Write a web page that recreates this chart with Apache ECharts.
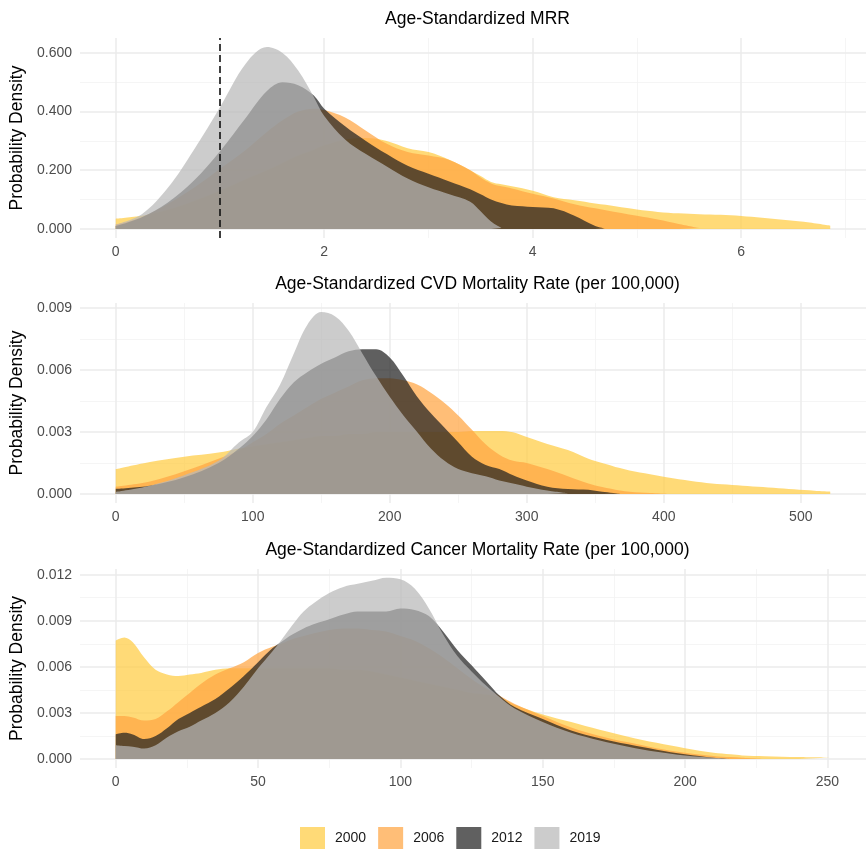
<!DOCTYPE html>
<html><head><meta charset="utf-8">
<script src="https://cdn.jsdelivr.net/npm/echarts@6/dist/echarts.min.js"></script>
<style>html,body{margin:0;padding:0;background:#fff}#c{width:866px;height:850px}</style>
</head><body><div id="c"></div><script>
// ---------- DATA ----------
const years = ['2000', '2006', '2012', '2019'];

// Panel 1: Age-Standardized MRR
const mrrX = [0, 0.25, 0.5, 0.75, 1.0, 1.25, 1.45, 1.6, 1.75, 1.9, 2.0, 2.2, 2.4, 2.6, 2.8, 3.0, 3.2, 3.4, 3.5, 3.6, 3.7, 3.8, 4.0, 4.2, 4.4, 4.6, 4.7, 5.0, 5.2, 5.4, 5.6, 5.8, 6.0, 6.2, 6.4, 6.6, 6.854];
const mrr2000 = [0.035, 0.045, 0.065, 0.095, 0.13, 0.17, 0.2, 0.225, 0.25, 0.27, 0.285, 0.305, 0.31, 0.3, 0.275, 0.262, 0.236, 0.2, 0.18, 0.16, 0.152, 0.145, 0.13, 0.108, 0.098, 0.087, 0.082, 0.066, 0.058, 0.053, 0.05, 0.048, 0.044, 0.038, 0.031, 0.024, 0.011];
const mrr2006 = [0.015, 0.04, 0.085, 0.14, 0.205, 0.27, 0.33, 0.37, 0.4, 0.41, 0.405, 0.38, 0.335, 0.29, 0.262, 0.25, 0.235, 0.2, 0.175, 0.155, 0.145, 0.138, 0.12, 0.104, 0.084, 0.07, 0.064, 0.045, 0.032, 0.017, 0.003];
const mrr2012 = [0.01, 0.04, 0.09, 0.165, 0.265, 0.38, 0.47, 0.5, 0.49, 0.455, 0.41, 0.35, 0.3, 0.255, 0.215, 0.188, 0.162, 0.135, 0.118, 0.1, 0.088, 0.08, 0.075, 0.07, 0.045, 0.01, 0.001];
const mrr2019 = [0.015, 0.05, 0.14, 0.27, 0.415, 0.565, 0.62, 0.6, 0.54, 0.45, 0.385, 0.305, 0.255, 0.213, 0.172, 0.142, 0.118, 0.093, 0.06, 0.025, 0.003];
const mrrXTicks = [0, 2, 4, 6];
const mrrYTicks = [0, 0.2, 0.4, 0.6];
const mrrRef = 1; // dashed reference line

// Panel 2: Age-Standardized CVD Mortality Rate
const cvdX = [0, 25, 50, 75, 90, 100, 110, 120, 130, 140, 150, 160, 170, 180, 190, 200, 210, 220, 230, 240, 250, 260, 270, 280, 290, 300, 315, 330, 345, 355, 368, 375, 390, 402, 420, 435, 450, 465, 480, 495, 510, 521.5];
const cvd2000 = [0.0012, 0.00155, 0.0018, 0.002, 0.0022, 0.0023, 0.0024, 0.0025, 0.0026, 0.0027, 0.0028, 0.0028, 0.0029, 0.0029, 0.003, 0.003, 0.003, 0.003, 0.003, 0.003, 0.003, 0.00305, 0.00305, 0.00305, 0.00298, 0.00275, 0.00242, 0.00212, 0.0017, 0.0015, 0.00125, 0.00113, 0.00095, 0.0008, 0.00062, 0.0005, 0.00043, 0.00036, 0.0003, 0.00022, 0.00015, 0.00011];
const cvd2006 = [0.00035, 0.0006, 0.0011, 0.0017, 0.0021, 0.0025, 0.0029, 0.0034, 0.0038, 0.0042, 0.0046, 0.0049, 0.0052, 0.0055, 0.0056, 0.0056, 0.0055, 0.0053, 0.0049, 0.0044, 0.0038, 0.0031, 0.0024, 0.0019, 0.0016, 0.0015, 0.0012, 0.00085, 0.0005, 0.00033, 0.00016, 0.0001, 0.00004, 0.00001];
const cvd2012 = [0.00025, 0.0004, 0.0008, 0.0015, 0.0022, 0.0028, 0.0036, 0.0046, 0.0054, 0.0059, 0.0063, 0.0066, 0.0069, 0.007, 0.007, 0.0066, 0.0057, 0.0047, 0.0039, 0.0032, 0.0025, 0.0018, 0.0014, 0.0012, 0.0009, 0.00065, 0.00035, 0.00024, 0.0002, 0.0001, 0.00001];
const cvd2019 = [0.0001, 0.0004, 0.0009, 0.0016, 0.0025, 0.003, 0.0042, 0.0053, 0.0068, 0.0082, 0.0088, 0.0086, 0.0079, 0.0068, 0.0057, 0.0047, 0.0038, 0.003, 0.0022, 0.0016, 0.0012, 0.001, 0.00085, 0.00065, 0.0005, 0.00035, 0.00016, 0.00003];
const cvdXTicks = [0, 100, 200, 300, 400, 500];
const cvdYTicks = [0, 0.003, 0.006, 0.009];

// Panel 3: Age-Standardized Cancer Mortality Rate
const canX = [0, 3, 6, 10, 14, 18, 22, 26, 30, 35, 40, 45, 50, 55, 58, 62, 66, 70, 75, 80, 85, 90, 95, 100, 105, 110, 115, 120, 125, 130, 135, 140, 150, 160, 170, 180, 190, 200, 210, 216, 220, 228, 240, 251];
const can2000 = [0.0077, 0.0079, 0.0076, 0.0066, 0.0058, 0.0055, 0.0054, 0.0055, 0.0056, 0.0058, 0.0059, 0.0059, 0.0059, 0.0059, 0.0059, 0.0059, 0.0059, 0.0059, 0.0059, 0.0058, 0.0058, 0.0057, 0.0055, 0.0053, 0.0051, 0.0049, 0.0047, 0.0045, 0.0043, 0.0042, 0.004, 0.00355, 0.0029, 0.0024, 0.0019, 0.00145, 0.00105, 0.0007, 0.0004, 0.0003, 0.00023, 0.00018, 0.00012, 0.00009];
const can2006 = [0.0028, 0.0028, 0.0027, 0.0025, 0.0026, 0.0031, 0.0037, 0.0043, 0.0049, 0.0055, 0.0059, 0.0063, 0.0069, 0.0073, 0.0075, 0.0078, 0.008, 0.0082, 0.0084, 0.0085, 0.0085, 0.0084, 0.0083, 0.008, 0.0077, 0.0072, 0.0066, 0.0059, 0.0052, 0.0046, 0.0041, 0.0036, 0.0028, 0.00205, 0.0015, 0.00108, 0.0007, 0.0004, 0.0002, 0.00012, 0.00008, 0.00001];
const can2012 = [0.0016, 0.0017, 0.0016, 0.0013, 0.0015, 0.002, 0.0026, 0.003, 0.0034, 0.0039, 0.0046, 0.0054, 0.0063, 0.0072, 0.0076, 0.0081, 0.0085, 0.0088, 0.0091, 0.0094, 0.0096, 0.0096, 0.0096, 0.0098, 0.0097, 0.0093, 0.0083, 0.0071, 0.0061, 0.0051, 0.0041, 0.0034, 0.0026, 0.00185, 0.00135, 0.00095, 0.0006, 0.0003, 0.00008, 0.00001];
const can2019 = [0.0009, 0.00085, 0.0008, 0.00068, 0.0009, 0.0014, 0.0018, 0.0021, 0.0025, 0.003, 0.0037, 0.0047, 0.0059, 0.007, 0.0077, 0.0087, 0.0096, 0.0102, 0.0108, 0.0112, 0.0114, 0.0116, 0.0118, 0.0117, 0.0111, 0.0098, 0.0081, 0.0067, 0.0057, 0.0048, 0.004, 0.0033, 0.0024, 0.0017, 0.0012, 0.0008, 0.00047, 0.00022, 0.00008, 0.00001];
const canXTicks = [0, 50, 100, 150, 200, 250];
const canYTicks = [0, 0.003, 0.006, 0.009, 0.012];

// ---------- STYLE ----------
const FONT = '"Liberation Sans", Arial, Helvetica, sans-serif';
const fillColors = {'2000': '#FFCC42', '2006': '#FFA542', '2012': '#212121', '2019': '#B8B8B8'};
const legendColors = {'2000': '#FFDA77', '2006': '#FFBE77', '2012': '#606060', '2019': '#CCCCCC'};
const FILL_OPACITY = 0.72;
const GRID_LEFT = 80, GRID_WIDTH = 795, TITLE_CX = 477.5;

const panels = [
  {title: 'Age-Standardized MRR', x: mrrX, ys: [mrr2000, mrr2006, mrr2012, mrr2019],
   xMin: -0.343, xMax: 7.197, yMin: -0.031, yMax: 0.6508,
   xTicks: mrrXTicks, xMinor: [1, 3, 5, 7], yTicks: mrrYTicks, yMinor: [0.1, 0.3, 0.5],
   top: 38, height: 200, titleY: 19},
  {title: 'Age-Standardized CVD Mortality Rate (per 100,000)', x: cvdX, ys: [cvd2000, cvd2006, cvd2012, cvd2019],
   xMin: -26.08, xMax: 547.6, yMin: -0.00044, yMax: 0.009238,
   xTicks: cvdXTicks, xMinor: [50, 150, 250, 350, 450], yTicks: cvdYTicks, yMinor: [0.0015, 0.0045, 0.0075],
   top: 303, height: 200, titleY: 284.5},
  {title: 'Age-Standardized Cancer Mortality Rate (per 100,000)', x: canX, ys: [can2000, can2006, can2012, can2019],
   xMin: -12.55, xMax: 263.55, yMin: -0.000589, yMax: 0.012368,
   xTicks: canXTicks, xMinor: [25, 75, 125, 175, 225], yTicks: canYTicks, yMinor: [0.0015, 0.0045, 0.0075, 0.0105],
   top: 569, height: 199, titleY: 550.5}
];

const grid = [], xAxis = [], yAxis = [], series = [], title = [];
const majorLine = {color: '#EBEBEB', width: 1.5, type: 'solid'};
const minorLine = {color: '#F2F2F2', width: 0.8, type: 'solid'};

panels.forEach((p, i) => {
  grid.push({left: GRID_LEFT, width: GRID_WIDTH, top: p.top, height: p.height, containLabel: false});
  title.push({text: p.title, left: TITLE_CX, top: p.titleY, padding: 0, textAlign: 'center', textVerticalAlign: 'middle',
    textStyle: {fontFamily: FONT, fontSize: 17.5, fontWeight: 'normal', color: '#000'}});
  xAxis.push({type: 'value', gridIndex: i, min: p.xMin, max: p.xMax,
    axisLine: {show: false, onZero: false}, axisTick: {show: false}, splitLine: {show: false},
    axisLabel: {customValues: p.xTicks, color: '#4D4D4D', fontSize: 14, fontFamily: FONT, margin: 7,
      formatter: v => String(Math.round(v))}});
  yAxis.push({type: 'value', gridIndex: i, min: p.yMin, max: p.yMax,
    axisLine: {show: false, onZero: false}, axisTick: {show: false}, splitLine: {show: false},
    name: 'Probability Density', nameLocation: 'middle', nameGap: 47,
    nameTextStyle: {fontFamily: FONT, fontSize: 17.5, color: '#000'},
    axisLabel: {customValues: p.yTicks, color: '#4D4D4D', fontSize: 14, fontFamily: FONT, margin: 8,
      formatter: v => Number(v).toFixed(3)}});
  // background grid lines (panel guides)
  const ml = [];
  p.yMinor.forEach(v => ml.push({yAxis: v, lineStyle: minorLine}));
  p.xMinor.forEach(v => ml.push({xAxis: v, lineStyle: minorLine}));
  p.yTicks.forEach(v => ml.push({yAxis: v, lineStyle: majorLine}));
  p.xTicks.forEach(v => ml.push({xAxis: v, lineStyle: majorLine}));
  series.push({type: 'line', xAxisIndex: i, yAxisIndex: i, data: [], z: 0, silent: true,
    markLine: {z: 0, precision: 10, silent: true, symbol: ['none', 'none'], label: {show: false}, animation: false, data: ml}});
  // density areas
  years.forEach((yr, j) => {
    const ys = p.ys[j];
    const data = [];
    for (let k = 0; k < ys.length; k++) data.push([p.x[k], ys[k]]);
    series.push({type: 'line', name: yr, xAxisIndex: i, yAxisIndex: i, data: data,
      smooth: 0.35, symbol: 'none', showSymbol: false, z: 2 + j * 0.01,
      lineStyle: {width: 0, opacity: 0}, itemStyle: {color: fillColors[yr]},
      areaStyle: {color: fillColors[yr], opacity: FILL_OPACITY},
      emphasis: {disabled: true}, silent: true, animation: false});
  });
});
// dashed reference line on MRR panel
series.push({type: 'line', xAxisIndex: 0, yAxisIndex: 0, data: [], z: 5, silent: true,
  markLine: {z: 6, precision: 10, silent: true, symbol: ['none', 'none'], label: {show: false}, animation: false,
    lineStyle: {color: '#111', width: 1.6, type: [7, 4]}, data: [{xAxis: mrrRef}]}});

const chart = echarts.init(document.getElementById('c'), null, {renderer: 'canvas'});
chart.setOption({
  animation: false,
  backgroundColor: '#fff',
  title: title, grid: grid, xAxis: xAxis, yAxis: yAxis, series: series,
  legend: {data: years.map(y => ({name: y, itemStyle: {color: legendColors[y], opacity: 1, borderWidth: 0}})),
    left: 300, top: 827, padding: 0, icon: 'rect', itemWidth: 25, itemHeight: 22, itemGap: 12,
    selectedMode: false,
    textStyle: {fontFamily: FONT, fontSize: 14, color: '#1A1A1A', padding: [0, 0, 0, 5]}}
});
</script></body></html>
